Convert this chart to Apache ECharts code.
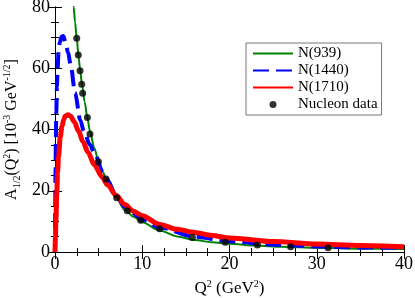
<!DOCTYPE html>
<html><head><meta charset="utf-8">
<script src="https://cdn.jsdelivr.net/npm/echarts@6/dist/echarts.min.js"></script>
<style>html,body{margin:0;padding:0;background:#fff}#c{width:415px;height:298px}</style>
</head><body><div id="c"></div>
<script>
var xTicks = [0, 10, 20, 30, 40];
var yTicks = [0, 20, 40, 60, 80];
var seriesNames = ['N(939)', 'N(1440)', 'N(1710)', 'Nucleon data'];

var n939X = [1.9, 2.0, 2.14, 2.3, 2.49, 2.7, 2.9, 3.1, 3.4, 3.7, 4.0, 4.5, 5, 5.5, 6, 7, 8, 9, 10, 12, 14, 16, 18, 20, 23, 26, 30, 35, 40];
var n939Y = [90, 85, 80, 75, 69.8, 63.8, 58.8, 54.5, 49, 44, 39.5, 34, 29.5, 26, 23, 17.8, 13.7, 11.5, 9.7, 7.0, 5.1, 3.9, 3.2, 2.7, 2.1, 1.7, 1.35, 1.1, 0.95];

var n1440X = [0, 0.03, 0.06, 0.1, 0.15, 0.22, 0.3, 0.4, 0.55, 0.75, 0.95, 1.2, 1.5, 1.8, 2.3, 2.9, 3.3, 4, 4.5, 5.5, 6, 7, 8, 10, 12, 16, 20, 25, 30, 35, 40];
var n1440Y = [0, 15, 27, 37, 46, 54, 60, 65, 68.5, 70.3, 70.5, 68.5, 65, 61, 52, 43, 39.5, 35, 32.5, 26, 23.5, 18.5, 14.8, 10.7, 8.0, 5.0, 3.5, 2.4, 1.8, 1.5, 1.3];

var n1710X = [0, 0.05, 0.1, 0.2, 0.3, 0.4, 0.6, 0.8, 1.0, 1.2, 1.5, 1.8, 2.2, 2.7, 3.2, 3.8, 4.5, 5.4, 6, 7, 8, 9, 10, 12, 14, 16, 18, 20, 25, 30, 35, 40];
var n1710Y = [0, 5, 10, 19, 26, 31, 37.5, 41, 43.3, 44.4, 44.8, 44.3, 42.5, 39.5, 36, 32.5, 28.5, 24.5, 22, 18.5, 15.5, 13.3, 11.8, 9.0, 7.4, 6.4, 5.4, 4.6, 3.4, 2.6, 2.1, 1.7];

var dataX = [2.49, 2.67, 2.87, 3.06, 3.17, 3.71, 4.01, 4.97, 5.85, 7.07, 8.29, 9.82, 12.0, 15.74, 19.5, 23.2, 27.0, 31.3];
var dataY = [69.8, 64.3, 59.2, 54.8, 51.8, 43.9, 38.5, 29.5, 23.8, 17.7, 13.5, 10.4, 7.6, 4.8, 3.2, 2.3, 1.7, 1.4];

function zip(a, b) { return a.map(function (v, i) { return [v, b[i]]; }); }

var FONT = 'Liberation Serif';
var rich = {
  m: { fontFamily: FONT, fontSize: 17, lineHeight: 20, color: '#000', verticalAlign: 'middle' },
  sup: { fontFamily: FONT, fontSize: 10, lineHeight: 20, color: '#000', verticalAlign: 'top' },
  sub: { fontFamily: FONT, fontSize: 10, lineHeight: 20, color: '#000', verticalAlign: 'bottom' }
};
var richY = {
  m: { fontFamily: FONT, fontSize: 16, lineHeight: 20, color: '#000', verticalAlign: 'middle' },
  sup: { fontFamily: FONT, fontSize: 10, lineHeight: 20, color: '#000', verticalAlign: 'top' },
  sub: { fontFamily: FONT, fontSize: 10, lineHeight: 20, color: '#000', verticalAlign: 'bottom' }
};

var chart = echarts.init(document.getElementById('c'), null, { renderer: 'canvas' });
var tickCommon = { show: true, inside: true, length: 7, lineStyle: { color: '#000', width: 1 } };
var minorCommon = { show: true, splitNumber: 4, length: 4, lineStyle: { color: '#000', width: 1 } };

chart.setOption({
  animation: false,
  backgroundColor: '#fff',
  textStyle: { fontFamily: FONT },
  grid: { left: 55, right: 11, top: 7, bottom: 46, containLabel: false, outerBoundsMode: 'none' },
  legend: {
    orient: 'vertical',
    left: 246, top: 43,
    padding: [3, 4, 3, 6],
    itemWidth: 40, itemHeight: 7, itemGap: 2,
    borderColor: '#777', borderWidth: 1,
    textStyle: { fontFamily: FONT, fontSize: 15, color: '#000' },
    data: [
      { name: seriesNames[0], itemStyle: { opacity: 0 } },
      { name: seriesNames[1], itemStyle: { opacity: 0 } },
      { name: seriesNames[2], itemStyle: { opacity: 0 } },
      { name: seriesNames[3], icon: 'circle' }
    ]
  },
  xAxis: [{
    type: 'value', min: xTicks[0], max: xTicks[xTicks.length - 1], interval: 10,
    axisLine: { show: true, onZero: false, lineStyle: { color: '#000', width: 1 } },
    axisTick: tickCommon, minorTick: minorCommon,
    splitLine: { show: false },
    axisLabel: { fontFamily: FONT, fontSize: 18, color: '#000', margin: 3 },
    name: '{m|Q}{sup|2}{m| (GeV}{sup|2}{m|)}',
    nameLocation: 'middle', nameGap: 27, nameMoveOverlap: false,
    nameTextStyle: { rich: rich }
  }, {
    type: 'value', position: 'top', min: 0, max: 40, interval: 10,
    axisLine: { show: true, lineStyle: { color: '#000', width: 1 } },
    axisTick: tickCommon, minorTick: minorCommon,
    axisLabel: { show: false }, splitLine: { show: false }
  }],
  yAxis: [{
    type: 'value', min: yTicks[0], max: yTicks[yTicks.length - 1], interval: 20,
    axisLine: { show: true, onZero: false, lineStyle: { color: '#000', width: 1 } },
    axisTick: tickCommon, minorTick: minorCommon,
    splitLine: { show: false },
    axisLabel: { fontFamily: FONT, fontSize: 18, color: '#000', margin: 5 },
    name: '{m|A}{sub|1/2}{m|(Q}{sup|2}{m|) [10}{sup|-3}{m| GeV}{sup|-1/2}{m|]}',
    nameLocation: 'middle', nameGap: 33, nameRotate: 90, nameMoveOverlap: false,
    nameTextStyle: { rich: richY }
  }, {
    type: 'value', position: 'right', min: 0, max: 80, interval: 20,
    axisLine: { show: true, lineStyle: { color: '#000', width: 1 } },
    axisTick: tickCommon, minorTick: minorCommon,
    axisLabel: { show: false }, splitLine: { show: false }
  }],
  series: [{
    name: seriesNames[0], type: 'line', data: zip(n939X, n939Y),
    showSymbol: false, smooth: 0.3, smoothMonotone: 'x', clip: true,
    lineStyle: { color: '#008000', width: 2 }, itemStyle: { color: '#008000' }, z: 2
  }, {
    name: seriesNames[1], type: 'line', data: zip(n1440X, n1440Y),
    showSymbol: false, smooth: 0.3, smoothMonotone: 'x', clip: true,
    lineStyle: { color: '#0000ff', width: 4, type: [16, 7] }, itemStyle: { color: '#0000ff' }, z: 3
  }, {
    name: seriesNames[2], type: 'line', data: zip(n1710X, n1710Y),
    showSymbol: false, smooth: 0.3, smoothMonotone: 'x', clip: true,
    lineStyle: { color: '#ff0000', width: 5 }, itemStyle: { color: '#ff0000' }, z: 4
  }, {
    name: seriesNames[3], type: 'scatter', data: zip(dataX, dataY),
    symbol: 'circle', symbolSize: 7, itemStyle: { color: '#000' }, z: 5
  }]
});
</script></body></html>
